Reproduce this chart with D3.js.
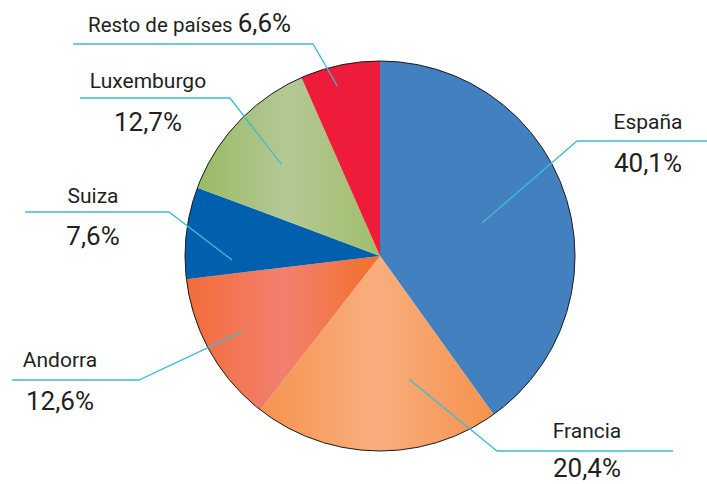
<!DOCTYPE html>
<html>
<head>
<meta charset="utf-8">
<script src="https://cdn.jsdelivr.net/npm/d3@7"></script>
<style>
  body { margin: 0; background: #fff; }
  text { font-family: Roboto, "Open Sans", sans-serif; fill: #231f20; }
</style>
</head>
<body>
<div id="chart"></div>
<script>
var svgWidth = 707;
var svgHeight = 484;

// data
var paises = ["España", "Francia", "Andorra", "Suiza", "Luxemburgo", "Resto de países"];
var porcentajes = [40.1, 20.4, 12.6, 7.6, 12.7, 6.6];

// fills: plain colour or horizontal gradient stops
var fills = [
  ["#4380c0"],
  ["#f5944f", "#f9ae7e", "#f5924c"],
  ["#f26d3a", "#f28070", "#f37028"],
  ["#0060ad"],
  ["#98bb64", "#b4c895", "#9fbf6c"],
  ["#ee1b3b"]
];

// label layout: leader end inside the pie (angle deg, radius fraction), elbow, line end, text
var labelLayout = [
  { a: 72.1, f: 0.55, elbow: [577, 141], end: [707, 141], tx: 648, ny: 129, py: 172 },
  { a: 166.7, f: 0.65, elbow: [497, 451], end: [673, 451], tx: 587, ny: 438, py: 477 },
  { a: 241.3, f: 0.81, elbow: [139, 380], end: [12, 380], tx: 60, ny: 367, py: 410 },
  { a: 268.5, f: 0.76, elbow: [169, 212], end: [25, 212], tx: 93, ny: 203, py: 245 },
  { a: 312.9, f: 0.69, elbow: [230, 98], end: [80, 98], tx: 148, ny: 88, py: 131 },
  { a: 345.9, f: 0.90, elbow: [313, 44], end: [73, 44], tx: 88, ny: 32, py: null }
];

var cx = 380, cy = 256, radius = 195;

var svg = d3.select("#chart")
  .append("svg")
  .attr("width", svgWidth)
  .attr("height", svgHeight);

var defs = svg.append("defs");

var pie = d3.pie().sort(null).value(d => d);
var arcs = pie(porcentajes);
var arc = d3.arc().innerRadius(0).outerRadius(radius);

var chartGroup = svg.append("g")
  .attr("transform", `translate(${cx}, ${cy})`);

// gradients
fills.forEach(function (f, i) {
  if (f.length > 1) {
    var g = defs.append("linearGradient")
      .attr("id", "grad" + i)
      .attr("x1", 0).attr("x2", 1).attr("y1", 0).attr("y2", 0);
    f.forEach(function (c, j) {
      g.append("stop")
        .attr("offset", (j / (f.length - 1) * 100) + "%")
        .attr("stop-color", c);
    });
  }
});

chartGroup.selectAll("path.slice")
  .data(arcs)
  .enter()
  .append("path")
  .attr("class", "slice")
  .attr("d", arc)
  .attr("fill", (d, i) => fills[i].length > 1 ? `url(#grad${i})` : fills[i][0]);

// outline
chartGroup.append("circle")
  .attr("r", radius)
  .attr("fill", "none")
  .attr("stroke", "#1a1a1a")
  .attr("stroke-width", 1);

// leader lines
var leaders = svg.append("g");
labelLayout.forEach(function (l, i) {
  var ang = l.a * Math.PI / 180;
  var p0 = [cx + Math.sin(ang) * radius * l.f, cy - Math.cos(ang) * radius * l.f];
  leaders.append("polyline")
    .attr("points", [p0, l.elbow, l.end].map(p => p.join(",")).join(" "))
    .attr("fill", "none")
    .attr("stroke", "#3dbcd6")
    .attr("stroke-width", 1.3);
});

// labels
var fmt = v => v.toFixed(1).replace(".", ",") + "%";
labelLayout.forEach(function (l, i) {
  if (l.py === null) {
    var t = svg.append("text")
      .attr("x", l.tx)
      .attr("y", l.ny);
    t.append("tspan").attr("font-size", 20.5).text(paises[i] + " ");
    t.append("tspan").attr("font-size", 26).text(fmt(porcentajes[i]));
  } else {
    svg.append("text")
      .attr("x", l.tx)
      .attr("y", l.ny)
      .attr("text-anchor", "middle")
      .attr("font-size", 21)
      .text(paises[i]);
    svg.append("text")
      .attr("x", l.tx)
      .attr("y", l.py)
      .attr("text-anchor", "middle")
      .attr("font-size", 26)
      .text(fmt(porcentajes[i]));
  }
});
</script>
</body>
</html>
